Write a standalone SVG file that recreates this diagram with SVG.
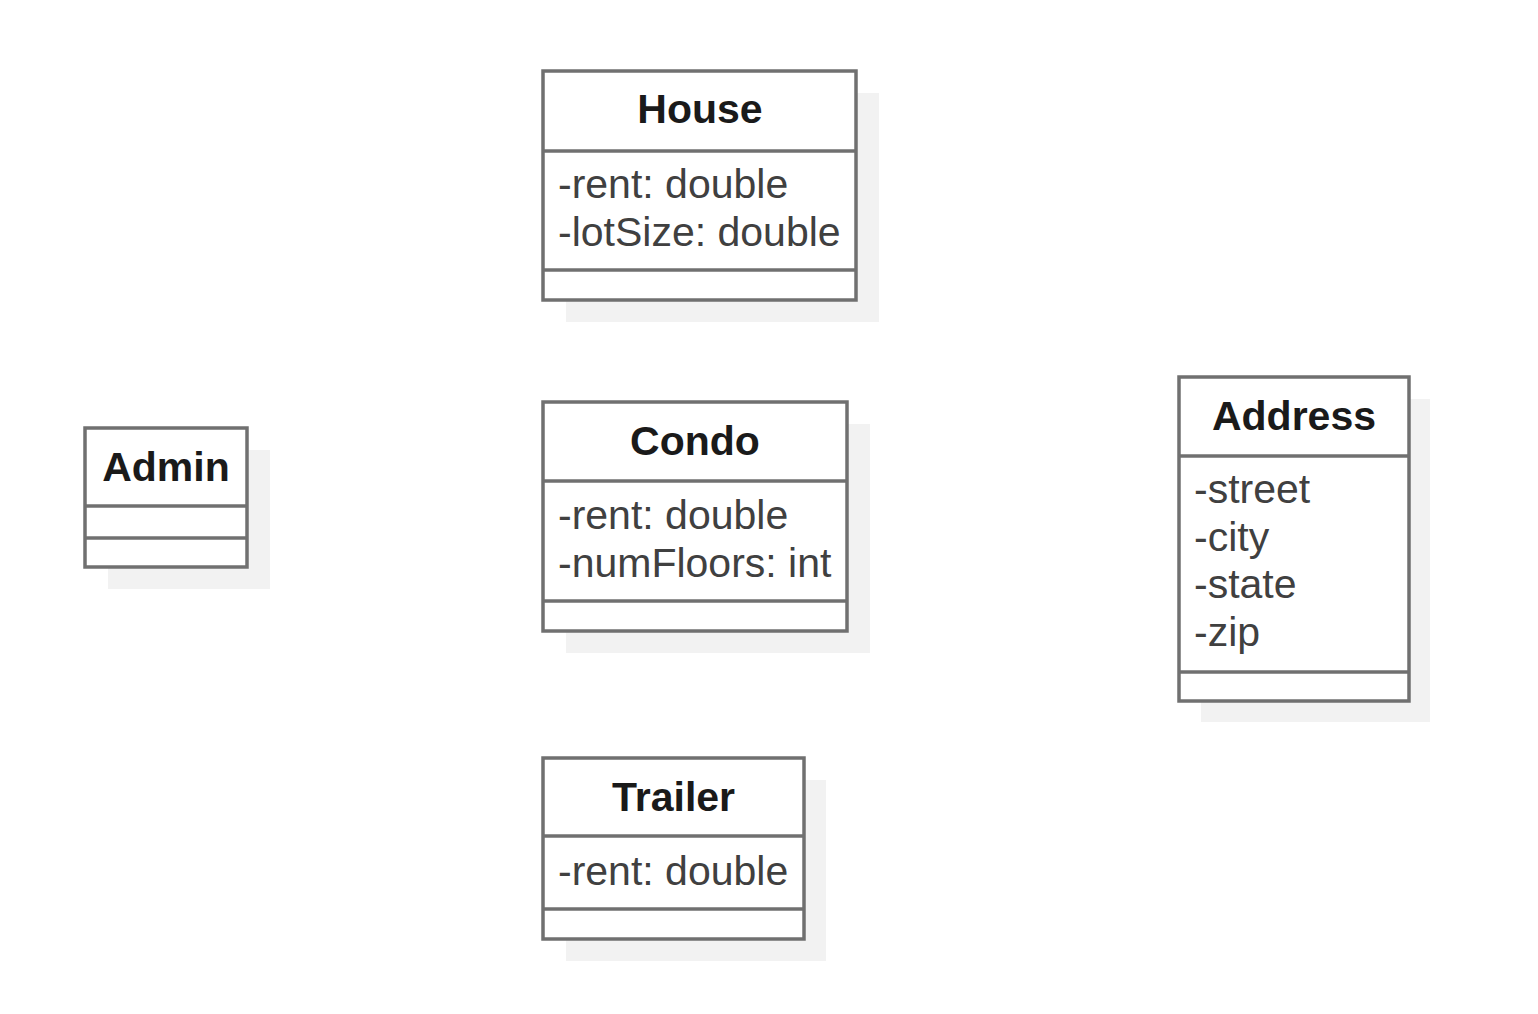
<svg xmlns="http://www.w3.org/2000/svg" width="1538" height="1014" viewBox="0 0 1538 1014">
<style>
.shadow{fill:#f2f2f2}
.box{fill:#fff;stroke:#707070;stroke-width:3.5}
.div{stroke:#707070;stroke-width:3.5}
.title{font-family:"Liberation Sans",Arial,sans-serif;font-size:41px;font-weight:bold;fill:#1a1a1a;text-anchor:middle}
.attr{font-family:"Liberation Sans",Arial,sans-serif;font-size:41px;fill:#404040}
</style>
<rect width="1538" height="1014" fill="#fff"/>
<g id="House">
<rect class="shadow" x="566" y="93" width="313" height="229"/>
<rect class="box" x="543" y="71" width="313" height="229"/>
<line class="div" x1="543" y1="151" x2="856" y2="151"/>
<line class="div" x1="543" y1="270" x2="856" y2="270"/>
<text class="title" x="700" y="123">House</text>
<text class="attr" x="558" y="198">-rent: double</text>
<text class="attr" x="558" y="246">-lotSize: double</text>
</g>
<g id="Admin">
<rect class="shadow" x="108" y="450" width="162" height="139"/>
<rect class="box" x="85" y="428" width="162" height="139"/>
<line class="div" x1="85" y1="506" x2="247" y2="506"/>
<line class="div" x1="85" y1="538" x2="247" y2="538"/>
<text class="title" x="166" y="481">Admin</text>
</g>
<g id="Condo">
<rect class="shadow" x="566" y="424" width="304" height="229"/>
<rect class="box" x="543" y="402" width="304" height="229"/>
<line class="div" x1="543" y1="481" x2="847" y2="481"/>
<line class="div" x1="543" y1="601" x2="847" y2="601"/>
<text class="title" x="695" y="455">Condo</text>
<text class="attr" x="558" y="529">-rent: double</text>
<text class="attr" x="558" y="577">-numFloors: int</text>
</g>
<g id="Address">
<rect class="shadow" x="1201" y="399" width="229" height="323"/>
<rect class="box" x="1179" y="377" width="230" height="324"/>
<line class="div" x1="1179" y1="456" x2="1409" y2="456"/>
<line class="div" x1="1179" y1="672" x2="1409" y2="672"/>
<text class="title" x="1294" y="430">Address</text>
<text class="attr" x="1194" y="503">-street</text>
<text class="attr" x="1194" y="551">-city</text>
<text class="attr" x="1194" y="598">-state</text>
<text class="attr" x="1194" y="646">-zip</text>
</g>
<g id="Trailer">
<rect class="shadow" x="566" y="780" width="260" height="181"/>
<rect class="box" x="543" y="758" width="261" height="181"/>
<line class="div" x1="543" y1="836" x2="804" y2="836"/>
<line class="div" x1="543" y1="909" x2="804" y2="909"/>
<text class="title" x="673.5" y="811">Trailer</text>
<text class="attr" x="558" y="885">-rent: double</text>
</g>
<g id="connectors"></g>
</svg>
